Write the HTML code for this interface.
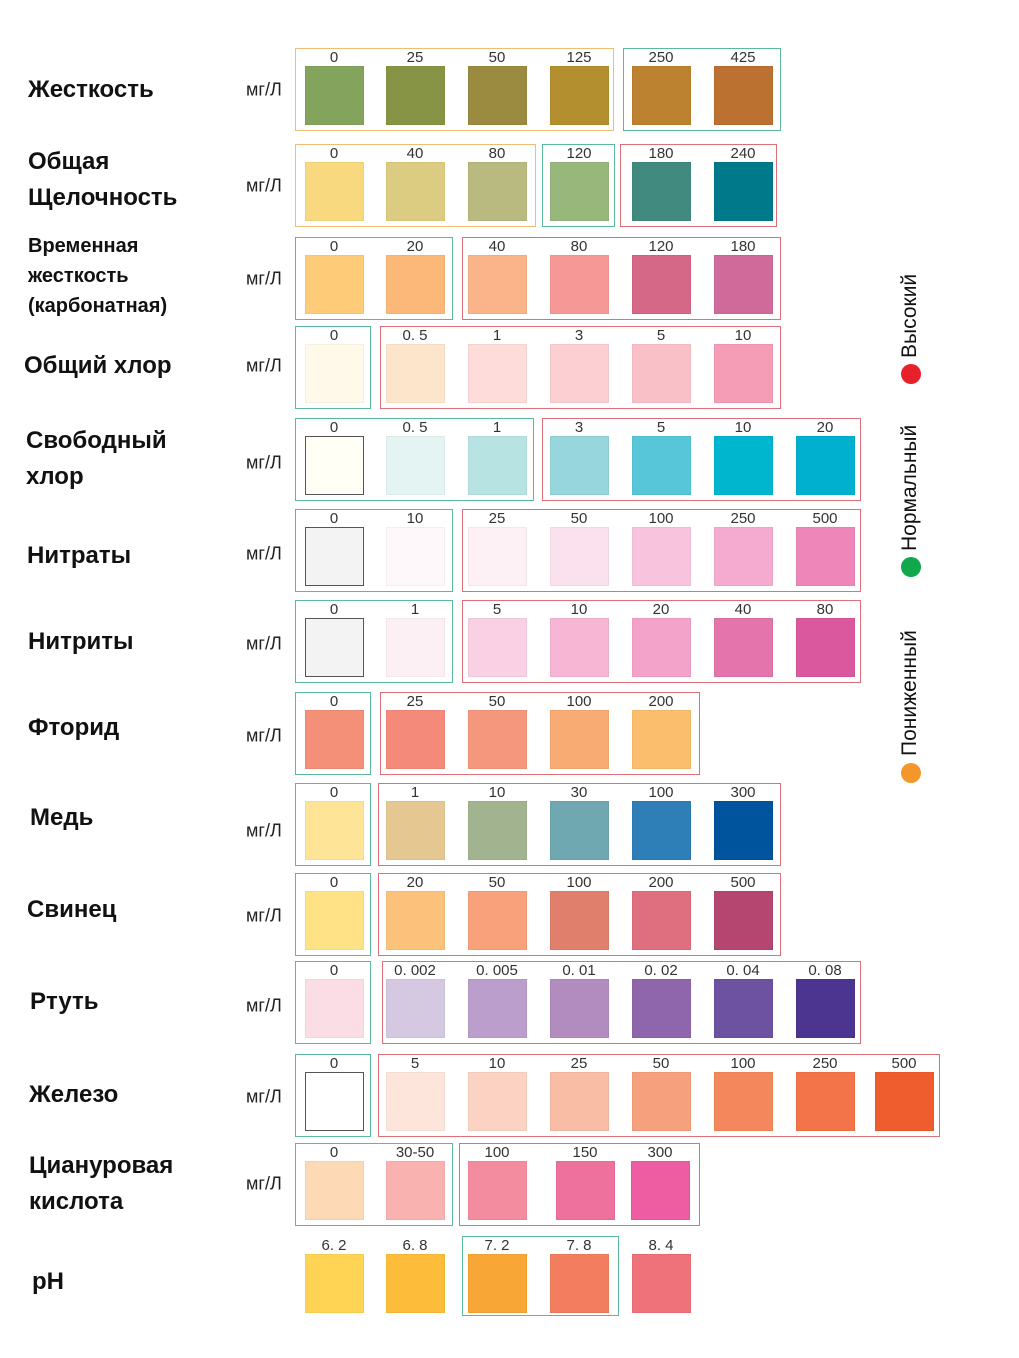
<!DOCTYPE html>
<html><head><meta charset="utf-8">
<style>
body{margin:0;background:#fff;}
#root{position:relative;width:1019px;height:1358px;overflow:hidden;background:#fff;font-family:"Liberation Sans","DejaVu Sans",sans-serif;}
.lbl{position:absolute;font-family:"Liberation Sans","DejaVu Sans",sans-serif;font-weight:bold;font-size:24px;color:#111;line-height:36px;white-space:nowrap}
.lbl.sm{font-size:20px;line-height:30px}
.unit{position:absolute;font-size:18px;color:#222;transform:translateY(-50%)}
.num{position:absolute;font-size:15px;color:#333;transform:translateX(-50%);white-space:nowrap;line-height:16px}
.sw{position:absolute;width:59px;height:59px;box-sizing:border-box;border:1px solid rgba(0,0,0,0.04)}
.sw.dark{border:1.5px solid #555}
.box{position:absolute;box-sizing:border-box;border:1.5px solid}
.leg{position:absolute;font-size:21px;color:#111;transform-origin:0 0;transform:rotate(-90deg);white-space:nowrap}
.dot{position:absolute;width:20px;height:20px;border-radius:50%}
</style></head>
<body>
<div id="root"></div>
<script>
const cols=[334,415,497,579,661,743,825,904];
const rowNames=["hardness","total-alkalinity","carbonate-hardness","total-chlorine","free-chlorine","nitrates","nitrites","fluoride","copper","lead","mercury","iron","cyanuric-acid","ph"];
const rowLabels=[["Жесткость"],["Общая","Щелочность"],["Временная","жесткость","(карбонатная)"],["Общий хлор"],["Свободный","хлор"],["Нитраты"],["Нитриты"],["Фторид"],["Медь"],["Свинец"],["Ртуть"],["Железо"],["Циануровая","кислота"],["pH"]];
const labelX=[28,28,28,24,26,27,28,28,30,27,30,29,29,32];
const labelY=[72,144,231,348,423,538,624,710,800,892,984,1077,1148,1264];
const unitY=[90,186,279,366,463,554,644,736,831,916,1006,1097,1184,null];
const swTop=[66,162,255,344,436,527,618,710,801,891,979,1072,1161,1254];
const values=[
["0","25","50","125","250","425"],
["0","40","80","120","180","240"],
["0","20","40","80","120","180"],
["0","0. 5","1","3","5","10"],
["0","0. 5","1","3","5","10","20"],
["0","10","25","50","100","250","500"],
["0","1","5","10","20","40","80"],
["0","25","50","100","200"],
["0","1","10","30","100","300"],
["0","20","50","100","200","500"],
["0","0. 002","0. 005","0. 01","0. 02","0. 04","0. 08"],
["0","5","10","25","50","100","250","500"],
["0","30-50","100","150","300"],
["6. 2","6. 8","7. 2","7. 8","8. 4"]];
const colors=[
["#84a45e","#879446","#9a8b41","#b38f30","#bd822f","#bb712f"],
["#f8d97f","#dccc82","#b9ba80","#97b77b","#418a80","#00798a"],
["#fecb78","#fcb878","#fbb48a","#f69896","#d46886","#d06a9b"],
["#fff9ea","#fde5cc","#fddcd9","#fcd0d2","#fac0c8","#f59db6"],
["#fffff5","#e4f4f2","#b8e3e3","#96d6dc","#56c6d8","#00b6ce","#00b0cf"],
["#f3f3f3","#fff8fa","#fdf1f5","#fbe0ee","#f8c3dc","#f4abcf","#ef86ba"],
["#f3f3f3","#fdf0f5","#fad0e4","#f6b6d4","#f3a2c9","#e474ac","#d9589e"],
["#f48f78","#f48a7a","#f5977c","#f8ab73","#fbbe6c"],
["#fde496","#e5c891","#a2b48f","#6fa8b0","#2e7eb8","#00539d"],
["#fee285","#fcc27c","#f8a17a","#e0806c","#df6f7e","#b4466f"],
["#fbdde6","#d4c9e1","#bb9ecb","#b28bbf","#8f66ab","#6c52a1","#4b3590"],
["#ffffff","#fde5dc","#fcd3c3","#f9bca5","#f6a07e","#f4885c","#f27448","#ef5d2f"],
["#fed9b6","#f9b2b0","#f48c9f","#ee709c","#ee5ca2"],
["#ffd454","#fdbd3a","#f8a736","#f27e5f","#ef717a"]];
const darkIdx=[[],[],[],[],[0],[0],[0],[],[],[],[],[0],[],[]];
const cyanCols=[334,415,497,585,660];
const boxes=[
[[295,614,"o"],[623,781,"g"]],
[[295,536,"o"],[542,615,"g"],[620,777,"r"]],
[[295,453,"g"],[462,781,"r"]],
[[295,371,"g"],[380,781,"r"]],
[[295,534,"g"],[542,861,"r"]],
[[295,453,"g"],[462,861,"r"]],
[[295,453,"g"],[462,861,"r"]],
[[295,371,"g"],[380,700,"r"]],
[[295,371,"g"],[378,781,"r"]],
[[295,371,"g"],[378,781,"r"]],
[[295,371,"g"],[382,861,"r"]],
[[295,371,"g"],[378,940,"r"]],
[[295,453,"g"],[459,700,"r"]],
[[462,619,"g"]]];
const boxColor={o:"#f0bd74",g:"#5cb99a",r:"#df6f79"};
const root=document.getElementById('root');
function mk(cls,parent){const e=document.createElement('div');e.className=cls;(parent||root).appendChild(e);return e;}
rowNames.forEach((rn,r)=>{
  const top=swTop[r];
  boxes[r].forEach((b,i)=>{
    const e=mk('box');
    
    
    e.style.left=b[0]+'px';e.style.width=(b[1]-b[0])+'px';
    e.style.top=(top-18)+'px';e.style.height=(r===13?80:83)+'px';
    e.style.borderColor=boxColor[b[2]];
  });
  const lab=mk('lbl'+(r===2?' sm':''));
  
  
  lab.innerHTML=rowLabels[r].join('<br>');
  lab.style.left=labelX[r]+'px';lab.style.top=labelY[r]+'px';
  if(unitY[r]!==null){
    const u=mk('unit');
    
    
    u.textContent='мг/Л';u.style.left='246px';u.style.top=unitY[r]+'px';
  }
  values[r].forEach((v,i)=>{
    let cx;
    if(r===12) cx=cyanCols[i];
    else cx=cols[i];
    const s=mk('sw'+(darkIdx[r].includes(i)?' dark':''));
    
    
    s.style.left=(cx-29)+'px';s.style.top=top+'px';s.style.background=colors[r][i];
    const n=mk('num');
    
    
    n.textContent=v;n.style.left=cx+'px';n.style.top=(top-16)+'px';
  });
});
const legText=["Высокий","Нормальный","Пониженный"];
const legColor=["#e8202a","#10a84a","#f5962a"];
const legBottom=[358,551,756];
const legDot=[374,567,773];
const legNames=["high","normal","low"];
legText.forEach((t,i)=>{
  const e=mk('leg');
  
  
  e.textContent=t;e.style.left='898px';e.style.top=legBottom[i]+'px';
  const d=mk('dot');
  
  
  d.style.left='901px';d.style.top=(legDot[i]-10)+'px';d.style.background=legColor[i];
});
</script>
</body></html>
